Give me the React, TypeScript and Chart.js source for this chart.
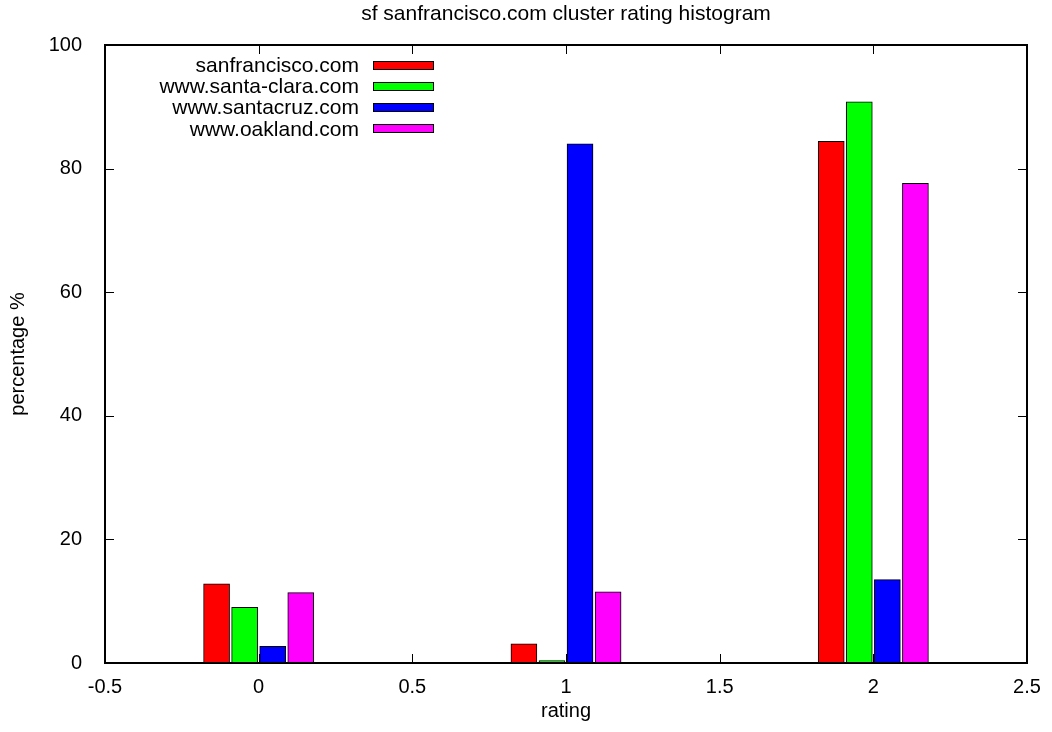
import React, { useEffect, useRef } from "react";
import { Chart, registerables } from "chart.js";

Chart.register(...registerables);

const chartTitle = "sf sanfrancisco.com cluster rating histogram";
const xAxisTitle = "rating";
const yAxisTitle = "percentage %";

const ratings = [0, 1, 2];
const seriesLabels = ["sanfrancisco.com", "www.santa-clara.com", "www.santacruz.com", "www.oakland.com"];
const sanfrancisco = [12.8, 3.1, 84.4];
const santaClara = [9.0, 0.4, 90.8];
const santaCruz = [2.7, 84.0, 13.5];
const oakland = [11.4, 11.5, 77.6];
const seriesColors = ["#ff0000", "#00ff00", "#0000ff", "#ff00ff"];

const xMin = -0.5;
const xMax = 2.5;
const xStep = 0.5;
const yMin = 0;
const yMax = 100;
const yStep = 20;

const FONT = "'Liberation Sans', Arial, Helvetica, sans-serif";

const gnuplotPlugin = {
  id: "gnuplotDecor",
  afterDatasetsDraw(chart: any) {
    const ctx = chart.ctx as CanvasRenderingContext2D;
    const { left, right, top, bottom } = chart.chartArea;
    const xs = chart.scales.x;
    const ys = chart.scales.y;
    const tl = 9;
    ctx.save();
    ctx.strokeStyle = "#000";
    ctx.lineWidth = 1;
    ctx.beginPath();
    xs.ticks.forEach((t: any) => {
      const px = Math.round(xs.getPixelForValue(t.value)) + 0.5;
      ctx.moveTo(px, bottom);
      ctx.lineTo(px, bottom - tl);
      ctx.moveTo(px, top);
      ctx.lineTo(px, top + tl);
    });
    ys.ticks.forEach((t: any) => {
      const py = Math.round(ys.getPixelForValue(t.value)) + 0.5;
      ctx.moveTo(left, py);
      ctx.lineTo(left + tl, py);
      ctx.moveTo(right, py);
      ctx.lineTo(right - tl, py);
    });
    ctx.stroke();
    ctx.lineWidth = 2;
    ctx.strokeRect(left, top, right - left, bottom - top);
    ctx.restore();
  },
  afterDraw(chart: any) {
    const ctx = chart.ctx as CanvasRenderingContext2D;
    const { left, right, top } = chart.chartArea;
    ctx.save();
    ctx.fillStyle = "#000";
    ctx.font = `21px ${FONT}`;
    ctx.textAlign = "center";
    ctx.textBaseline = "middle";
    ctx.fillText(chartTitle, (left + right) / 2, 14);
    ctx.textAlign = "right";
    chart.data.datasets.forEach((ds: any, i: number) => {
      const y = top + 20 + i * 21.3;
      ctx.fillStyle = "#000";
      ctx.fillText(ds.label, left + 254, y + 1);
      ctx.fillStyle = ds.backgroundColor;
      ctx.fillRect(left + 268, Math.round(y - 4.5), 61, 9);
      ctx.strokeStyle = "#000";
      ctx.lineWidth = 1;
      ctx.strokeRect(left + 268 + 0.5, Math.round(y - 4.5) + 0.5, 60, 8);
    });
    ctx.restore();
  },
};

export default function App() {
  const canvasRef = useRef<HTMLCanvasElement | null>(null);

  useEffect(() => {
    const canvas = canvasRef.current;
    if (!canvas) return;
    const seriesValues = [sanfrancisco, santaClara, santaCruz, oakland];
    const n = seriesValues.length;
    const slot = 0.0913;
    const chart = new Chart(canvas, {
      type: "bar",
      data: {
        datasets: seriesLabels.map((label, i) => ({
          label,
          data: ratings.map((r, j) => ({ x: r + (i - (n - 1) / 2) * slot, y: seriesValues[i][j] })),
          backgroundColor: seriesColors[i],
          borderColor: "#000",
          borderWidth: 1,
          barThickness: 26,
          grouped: false,
        })),
      },
      options: {
        animation: false,
        responsive: false,
        devicePixelRatio: 1,
        events: [],
        layout: { padding: { left: 0, top: 45, right: 25, bottom: 0 } },
        plugins: {
          legend: { display: false },
          tooltip: { enabled: false },
          title: { display: false },
        },
        scales: {
          x: {
            type: "linear",
            min: xMin,
            max: xMax,
            offset: false,
            grid: { display: false },
            border: { display: false },
            ticks: {
              stepSize: xStep,
              color: "#000",
              font: { family: FONT, size: 20 },
              padding: 4,
              maxRotation: 0,
              autoSkip: false,
              callback: (v: any) => String(Number(v)),
            },
            title: {
              display: true,
              text: xAxisTitle,
              color: "#000",
              font: { family: FONT, size: 20 },
              padding: { top: 0, bottom: 9 },
            },
            afterFit(scale: any) {
              scale.height = 69;
            },
          },
          y: {
            type: "linear",
            min: yMin,
            max: yMax,
            grid: { display: false },
            border: { display: false },
            ticks: {
              stepSize: yStep,
              color: "#000",
              font: { family: FONT, size: 20 },
              padding: 15,
            },
            title: {
              display: true,
              text: yAxisTitle,
              color: "#000",
              font: { family: FONT, size: 20 },
              padding: { top: 6, bottom: 0 },
            },
            afterFit(scale: any) {
              scale.width = 105;
            },
          },
        },
      },
      plugins: [gnuplotPlugin],
    } as any);
    return () => chart.destroy();
  }, []);

  return (
    <div style={{ position: "absolute", left: 0, top: 0, width: 1052, height: 732, background: "#fff" }}>
      <canvas ref={canvasRef} width={1052} height={732} style={{ display: "block" }} />
    </div>
  );
}
